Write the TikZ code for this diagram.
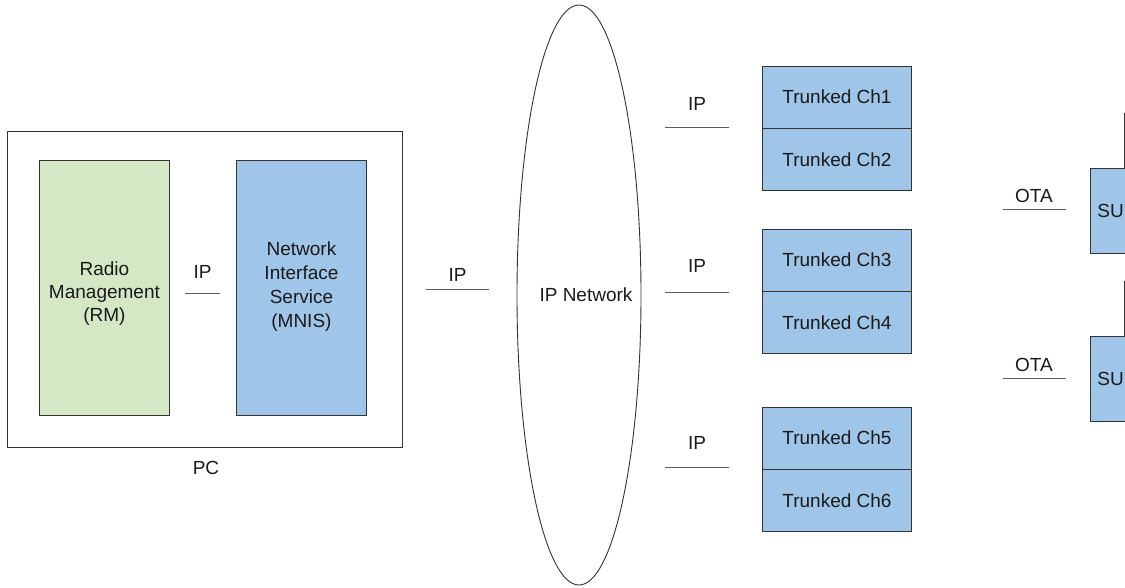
\documentclass[tikz,border=0pt]{standalone}
\usepackage{fontspec}
\setmainfont{Liberation Sans}
\usepackage{tikz}
\usetikzlibrary{calc,positioning,shapes.geometric}
\definecolor{linex}{HTML}{333333}
\definecolor{greenx}{HTML}{D5E8C6}
\definecolor{bluex}{HTML}{9FC6E8}
\definecolor{textx}{HTML}{1A1A1A}
\tikzset{
  blk/.style={draw=linex,line width=0.9pt,rectangle,inner sep=0pt,anchor=north west,align=center,text=textx},
  chbox/.style={blk,fill=bluex,minimum width=149pt,minimum height=61.5pt},
  wire/.style={draw=linex!80,line width=0.9pt},
  lbl/.style={text=textx,inner sep=0pt}
}

\begin{document}
\begin{tikzpicture}[x=1pt,y=-1pt,font=\fontsize{19}{23}\selectfont]
\clip (0,0) rectangle (1125,587);
\fill[white] (0,0) rectangle (1125,587);
% PC with RM and MNIS
\node[blk,minimum width=395pt,minimum height=316pt] (pc) at (7,131) {};
\node[lbl] (pclbl) at (206,468) {PC};
\node[blk,fill=greenx,minimum width=130pt,minimum height=255pt] (rm) at (39,160) {};
\node[lbl,align=center] at ($(rm.center)+(0,6)$) {Radio\\Management\\(RM)};
\node[blk,fill=bluex,minimum width=130pt,minimum height=255pt] (mnis) at (236,160) {};
\node[lbl,align=center,font=\fontsize{19}{24}\selectfont] at ($(mnis.center)+(0,-1)$) {Network\\Interface\\Service\\(MNIS)};
\coordinate (ip0a) at (185,293);
\coordinate (ip0b) at (220,293);
\draw[wire] (ip0a) -- (ip0b);
\node[lbl] at ($(ip0a)!0.5!(ip0b)+(0,-21)$) {IP};
% PC to network
\coordinate (ip1a) at (426,289);
\coordinate (ip1b) at (489,289);
\draw[wire] (ip1a) -- (ip1b);
\node[lbl] at ($(ip1a)!0.5!(ip1b)+(0,-14)$) {IP};
% IP network
\node[ellipse,draw=linex,line width=0.9pt,minimum width=124pt,minimum height=580pt,inner sep=0pt] (net) at (579,295) {};
\node[lbl] (netlbl) at (586,295) {IP Network};
% trunked channels
\node[chbox] (ch1) at (762,66) {Trunked Ch1};
\node[chbox,below=0pt of ch1] (ch2) {Trunked Ch2};
\node[chbox] (ch3) at (762,229) {Trunked Ch3};
\node[chbox,below=0pt of ch3] (ch4) {Trunked Ch4};
\node[chbox] (ch5) at (762,407) {Trunked Ch5};
\node[chbox,below=0pt of ch5] (ch6) {Trunked Ch6};
\foreach \i/\y/\ly in {2/127/104,3/292/266,4/467/443}{
  \coordinate (ip\i a) at (665,\y);
  \coordinate (ip\i b) at (729,\y);
  \draw[wire] (ip\i a) -- (ip\i b);
  \node[lbl] at (697,\ly) {IP};
}
% subscriber units
\node[blk,fill=bluex,minimum width=80pt,minimum height=85pt,text width=66pt,align=left,inner xsep=7pt] (su1) at (1090,168) {SU};
\node[blk,fill=bluex,minimum width=80pt,minimum height=85pt,text width=66pt,align=left,inner xsep=7pt] (su2) at (1090,336) {SU};
\coordinate (ant1) at (1124,113);
\coordinate (ant2) at (1124,281);
\draw[wire,draw=linex] (ant1) -- (ant1 |- su1.north);
\draw[wire,draw=linex] (ant2) -- (ant2 |- su2.north);
\foreach \i/\y in {1/209,2/378}{
  \coordinate (ota\i a) at (1003,\y);
  \coordinate (ota\i b) at (1066,\y);
  \draw[wire] (ota\i a) -- (ota\i b);
  \node[lbl] at (1034,\y-13) {OTA};
}
\end{tikzpicture}
\end{document}
